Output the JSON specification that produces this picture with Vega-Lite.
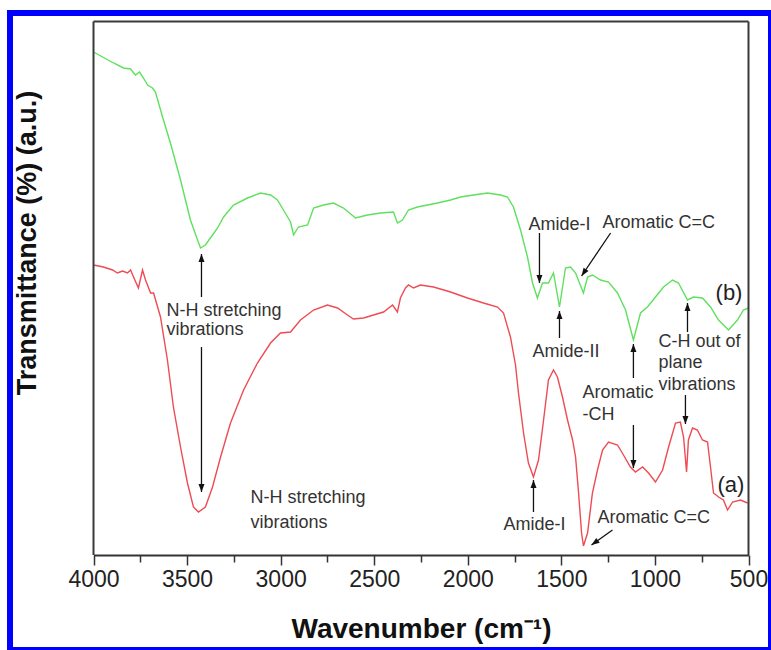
{
  "$schema": "https://vega.github.io/schema/vega-lite/v6.json",
  "width": 761,
  "height": 637,
  "autosize": {"type": "none"},
  "padding": {"left": 10, "top": 13, "right": 0, "bottom": 0},
  "background": "white",
  "config": {
    "view": {"stroke": "#0000ff", "strokeWidth": 6},
    "font": "Liberation Sans"
  },
  "datasets": {
    "curves": [
      {"series": "b", "wn": 4000, "v": 503}, {"series": "b", "wn": 3893, "v": 492}, {"series": "b", "wn": 3840, "v": 487},
      {"series": "b", "wn": 3802, "v": 486}, {"series": "b", "wn": 3776, "v": 480}, {"series": "b", "wn": 3754, "v": 483},
      {"series": "b", "wn": 3733, "v": 477}, {"series": "b", "wn": 3711, "v": 470}, {"series": "b", "wn": 3685, "v": 467},
      {"series": "b", "wn": 3669, "v": 463}, {"series": "b", "wn": 3631, "v": 438}, {"series": "b", "wn": 3589, "v": 412},
      {"series": "b", "wn": 3535, "v": 375}, {"series": "b", "wn": 3482, "v": 335}, {"series": "b", "wn": 3444, "v": 315},
      {"series": "b", "wn": 3428, "v": 307}, {"series": "b", "wn": 3402, "v": 310}, {"series": "b", "wn": 3364, "v": 320},
      {"series": "b", "wn": 3337, "v": 327}, {"series": "b", "wn": 3305, "v": 338}, {"series": "b", "wn": 3252, "v": 350},
      {"series": "b", "wn": 3177, "v": 357}, {"series": "b", "wn": 3108, "v": 362}, {"series": "b", "wn": 3054, "v": 360},
      {"series": "b", "wn": 3017, "v": 355}, {"series": "b", "wn": 2985, "v": 345}, {"series": "b", "wn": 2947, "v": 333},
      {"series": "b", "wn": 2931, "v": 320}, {"series": "b", "wn": 2905, "v": 328}, {"series": "b", "wn": 2856, "v": 330},
      {"series": "b", "wn": 2824, "v": 347}, {"series": "b", "wn": 2771, "v": 350}, {"series": "b", "wn": 2718, "v": 352},
      {"series": "b", "wn": 2664, "v": 347}, {"series": "b", "wn": 2600, "v": 337}, {"series": "b", "wn": 2536, "v": 340},
      {"series": "b", "wn": 2466, "v": 342}, {"series": "b", "wn": 2397, "v": 343}, {"series": "b", "wn": 2376, "v": 332},
      {"series": "b", "wn": 2349, "v": 335}, {"series": "b", "wn": 2317, "v": 345}, {"series": "b", "wn": 2269, "v": 348},
      {"series": "b", "wn": 2215, "v": 350}, {"series": "b", "wn": 2162, "v": 352}, {"series": "b", "wn": 2092, "v": 355},
      {"series": "b", "wn": 2039, "v": 358}, {"series": "b", "wn": 1969, "v": 360}, {"series": "b", "wn": 1895, "v": 362},
      {"series": "b", "wn": 1825, "v": 360}, {"series": "b", "wn": 1788, "v": 358}, {"series": "b", "wn": 1756, "v": 348},
      {"series": "b", "wn": 1718, "v": 325}, {"series": "b", "wn": 1681, "v": 298}, {"series": "b", "wn": 1654, "v": 272},
      {"series": "b", "wn": 1628, "v": 257}, {"series": "b", "wn": 1601, "v": 272}, {"series": "b", "wn": 1569, "v": 272},
      {"series": "b", "wn": 1542, "v": 282}, {"series": "b", "wn": 1510, "v": 248}, {"series": "b", "wn": 1478, "v": 287},
      {"series": "b", "wn": 1451, "v": 288}, {"series": "b", "wn": 1424, "v": 282}, {"series": "b", "wn": 1382, "v": 262},
      {"series": "b", "wn": 1360, "v": 278}, {"series": "b", "wn": 1334, "v": 280}, {"series": "b", "wn": 1291, "v": 275},
      {"series": "b", "wn": 1248, "v": 273}, {"series": "b", "wn": 1200, "v": 262}, {"series": "b", "wn": 1157, "v": 245},
      {"series": "b", "wn": 1115, "v": 215}, {"series": "b", "wn": 1077, "v": 242}, {"series": "b", "wn": 1040, "v": 248},
      {"series": "b", "wn": 997, "v": 258}, {"series": "b", "wn": 954, "v": 268}, {"series": "b", "wn": 906, "v": 275},
      {"series": "b", "wn": 874, "v": 272}, {"series": "b", "wn": 826, "v": 255}, {"series": "b", "wn": 794, "v": 258},
      {"series": "b", "wn": 746, "v": 257}, {"series": "b", "wn": 703, "v": 248}, {"series": "b", "wn": 660, "v": 235},
      {"series": "b", "wn": 607, "v": 225}, {"series": "b", "wn": 559, "v": 235}, {"series": "b", "wn": 527, "v": 245},
      {"series": "b", "wn": 500, "v": 247},
      {"series": "a", "wn": 4000, "v": 290}, {"series": "a", "wn": 3947, "v": 288}, {"series": "a", "wn": 3898, "v": 285},
      {"series": "a", "wn": 3872, "v": 282}, {"series": "a", "wn": 3845, "v": 284}, {"series": "a", "wn": 3818, "v": 282},
      {"series": "a", "wn": 3802, "v": 285}, {"series": "a", "wn": 3786, "v": 278}, {"series": "a", "wn": 3760, "v": 267},
      {"series": "a", "wn": 3738, "v": 285}, {"series": "a", "wn": 3722, "v": 275}, {"series": "a", "wn": 3695, "v": 262},
      {"series": "a", "wn": 3679, "v": 262}, {"series": "a", "wn": 3642, "v": 238}, {"series": "a", "wn": 3605, "v": 195},
      {"series": "a", "wn": 3573, "v": 148}, {"series": "a", "wn": 3535, "v": 108}, {"series": "a", "wn": 3498, "v": 72},
      {"series": "a", "wn": 3466, "v": 48}, {"series": "a", "wn": 3439, "v": 43}, {"series": "a", "wn": 3402, "v": 48},
      {"series": "a", "wn": 3364, "v": 68}, {"series": "a", "wn": 3321, "v": 98}, {"series": "a", "wn": 3268, "v": 132},
      {"series": "a", "wn": 3198, "v": 165}, {"series": "a", "wn": 3124, "v": 192}, {"series": "a", "wn": 3054, "v": 212},
      {"series": "a", "wn": 3001, "v": 222}, {"series": "a", "wn": 2947, "v": 223}, {"series": "a", "wn": 2894, "v": 235},
      {"series": "a", "wn": 2824, "v": 245}, {"series": "a", "wn": 2750, "v": 250}, {"series": "a", "wn": 2696, "v": 247},
      {"series": "a", "wn": 2643, "v": 240}, {"series": "a", "wn": 2611, "v": 236}, {"series": "a", "wn": 2557, "v": 237},
      {"series": "a", "wn": 2504, "v": 240}, {"series": "a", "wn": 2450, "v": 243}, {"series": "a", "wn": 2402, "v": 250},
      {"series": "a", "wn": 2376, "v": 243}, {"series": "a", "wn": 2360, "v": 257}, {"series": "a", "wn": 2333, "v": 267},
      {"series": "a", "wn": 2317, "v": 270}, {"series": "a", "wn": 2290, "v": 267}, {"series": "a", "wn": 2253, "v": 270},
      {"series": "a", "wn": 2183, "v": 268}, {"series": "a", "wn": 2092, "v": 263}, {"series": "a", "wn": 2002, "v": 257},
      {"series": "a", "wn": 1916, "v": 252}, {"series": "a", "wn": 1841, "v": 248}, {"series": "a", "wn": 1809, "v": 242},
      {"series": "a", "wn": 1772, "v": 218}, {"series": "a", "wn": 1745, "v": 190}, {"series": "a", "wn": 1729, "v": 162},
      {"series": "a", "wn": 1702, "v": 122}, {"series": "a", "wn": 1676, "v": 92}, {"series": "a", "wn": 1649, "v": 78},
      {"series": "a", "wn": 1622, "v": 95}, {"series": "a", "wn": 1595, "v": 135}, {"series": "a", "wn": 1569, "v": 175},
      {"series": "a", "wn": 1542, "v": 185}, {"series": "a", "wn": 1521, "v": 178}, {"series": "a", "wn": 1494, "v": 158},
      {"series": "a", "wn": 1467, "v": 135}, {"series": "a", "wn": 1440, "v": 115}, {"series": "a", "wn": 1424, "v": 98},
      {"series": "a", "wn": 1408, "v": 62}, {"series": "a", "wn": 1392, "v": 22}, {"series": "a", "wn": 1382, "v": 9},
      {"series": "a", "wn": 1360, "v": 22}, {"series": "a", "wn": 1334, "v": 62}, {"series": "a", "wn": 1307, "v": 85},
      {"series": "a", "wn": 1280, "v": 105}, {"series": "a", "wn": 1248, "v": 113}, {"series": "a", "wn": 1200, "v": 110},
      {"series": "a", "wn": 1168, "v": 100}, {"series": "a", "wn": 1131, "v": 88}, {"series": "a", "wn": 1104, "v": 83},
      {"series": "a", "wn": 1066, "v": 88}, {"series": "a", "wn": 1034, "v": 82}, {"series": "a", "wn": 997, "v": 73},
      {"series": "a", "wn": 959, "v": 85}, {"series": "a", "wn": 927, "v": 108}, {"series": "a", "wn": 890, "v": 132},
      {"series": "a", "wn": 864, "v": 133}, {"series": "a", "wn": 847, "v": 118}, {"series": "a", "wn": 831, "v": 83},
      {"series": "a", "wn": 821, "v": 115}, {"series": "a", "wn": 799, "v": 127}, {"series": "a", "wn": 773, "v": 125},
      {"series": "a", "wn": 746, "v": 115}, {"series": "a", "wn": 719, "v": 113}, {"series": "a", "wn": 703, "v": 88},
      {"series": "a", "wn": 687, "v": 62}, {"series": "a", "wn": 660, "v": 58}, {"series": "a", "wn": 634, "v": 55},
      {"series": "a", "wn": 612, "v": 45}, {"series": "a", "wn": 585, "v": 53}, {"series": "a", "wn": 543, "v": 55},
      {"series": "a", "wn": 505, "v": 52}
    ],
    "labels": [
      {"text": "N-H stretching", "wn": 3610, "v": 244},
      {"text": "vibrations", "wn": 3610, "v": 225},
      {"text": "N-H stretching", "wn": 3161, "v": 57},
      {"text": "vibrations", "wn": 3161, "v": 32},
      {"text": "Amide-I", "wn": 1676, "v": 330},
      {"text": "Aromatic C=C", "wn": 1280, "v": 332},
      {"text": "Amide-II", "wn": 1654, "v": 203},
      {"text": "C-H out of", "wn": 981, "v": 213},
      {"text": "plane", "wn": 981, "v": 192},
      {"text": "vibrations", "wn": 981, "v": 170},
      {"text": "Aromatic", "wn": 1387, "v": 162},
      {"text": "-CH", "wn": 1387, "v": 140},
      {"text": "Amide-I", "wn": 1809, "v": 30},
      {"text": "Aromatic C=C", "wn": 1307, "v": 37}
    ],
    "curveLabels": [
      {"text": "(b)", "wn": 676, "v": 262},
      {"text": "(a)", "wn": 666, "v": 70}
    ],
    "frame": [
      {"wn": 4000, "v": 533.5, "wn0": 500, "v0": 533.5},
      {"wn": 4000, "v": 0, "wn0": 4000, "v0": 533.5},
      {"wn": 500, "v": 0, "wn0": 500, "v0": 533.5}
    ],
    "arrows": [
      {"wn": 3423, "v": 301, "wn0": 3423, "v0": 258},
      {"wn": 3423, "v": 63, "wn0": 3423, "v0": 208},
      {"wn": 1617, "v": 272, "wn0": 1617, "v0": 322},
      {"wn": 1392, "v": 279, "wn0": 1237, "v0": 322},
      {"wn": 1510, "v": 244, "wn0": 1510, "v0": 217},
      {"wn": 1115, "v": 211, "wn0": 1115, "v0": 177},
      {"wn": 1115, "v": 87, "wn0": 1115, "v0": 130},
      {"wn": 826, "v": 252, "wn0": 826, "v0": 223},
      {"wn": 837, "v": 131, "wn0": 837, "v0": 160},
      {"wn": 1649, "v": 75, "wn0": 1649, "v0": 43},
      {"wn": 1339, "v": 10, "wn0": 1227, "v0": 25}
    ]
  },
  "encoding": {
    "x": {
      "field": "wn", "type": "quantitative",
      "scale": {"domain": [500, 4000], "range": [738.5, 83.5], "nice": false, "zero": false},
      "axis": {
        "title": "Wavenumber (cm⁻¹)",
        "values": [4000, 3750, 3500, 3250, 3000, 2750, 2500, 2250, 2000, 1750, 1500, 1250, 1000, 750, 500],
        "format": "d",
        "labelExpr": "datum.value % 500 === 0 ? datum.label : ''",
        "offset": -95,
        "grid": false,
        "tickSize": {"condition": {"test": "datum.value % 500 === 0", "value": 10}, "value": 7},
        "tickColor": "#333333",
        "tickWidth": 1.5,
        "domainColor": "#333333",
        "domainWidth": 2,
        "labelFont": "Liberation Sans",
        "labelFontSize": 23,
        "labelColor": "#222222",
        "labelPadding": 3,
        "labelFlush": false,
        "labelOverlap": false,
        "titleFont": "Liberation Sans",
        "titleFontSize": 28,
        "titleFontWeight": "bold",
        "titleColor": "#111111",
        "titleBaseline": "middle",
        "titleY": 74
      }
    },
    "y": {
      "field": "v", "type": "quantitative",
      "scale": {"domain": [0, 533.5], "range": [542, 8.5], "nice": false, "zero": false},
      "axis": {
        "title": "Transmittance (%) (a.u.)",
        "labels": false, "ticks": false, "domain": false, "grid": false,
        "titleFont": "Liberation Sans",
        "titleFontSize": 27,
        "titleFontWeight": "bold",
        "titleColor": "#111111",
        "titleAngle": -90,
        "titleAlign": "center",
        "titleBaseline": "middle",
        "titleX": 17.5,
        "titleY": 229.5
      }
    }
  },
  "layer": [
    {
      "data": {"name": "curves"},
      "mark": {"type": "line", "strokeWidth": 1.4},
      "encoding": {
        "color": {"field": "series", "type": "nominal", "scale": {"domain": ["a", "b"], "range": ["#ee4b53", "#5fe05f"]}, "legend": null}
      }
    },
    {
      "data": {"name": "frame"},
      "mark": {"type": "rule", "color": "#3a3a3a", "strokeWidth": 2},
      "encoding": {
        "x2": {"field": "wn0"},
        "y2": {"field": "v0"}
      }
    },
    {
      "data": {"name": "arrows"},
      "mark": {"type": "rule", "color": "#111111", "strokeWidth": 1.3},
      "encoding": {
        "x2": {"field": "wn0"},
        "y2": {"field": "v0"}
      }
    },
    {
      "data": {"name": "arrows"},
      "transform": [
        {"calculate": "atan2((datum.wn0 - datum.wn) * 655 / 3500, datum.v - datum.v0) * 180 / PI", "as": "ang"}
      ],
      "mark": {"type": "point", "shape": "M0,0L0.75,2L-0.75,2Z", "filled": true, "color": "#111111", "size": 64, "opacity": 1},
      "encoding": {
        "angle": {"field": "ang", "type": "quantitative", "scale": null}
      }
    },
    {
      "data": {"name": "labels"},
      "mark": {"type": "text", "align": "left", "baseline": "middle", "fontSize": 18, "font": "Liberation Sans", "color": "#333333"},
      "encoding": {"text": {"field": "text"}}
    },
    {
      "data": {"name": "curveLabels"},
      "mark": {"type": "text", "align": "left", "baseline": "middle", "fontSize": 22, "font": "Liberation Sans", "color": "#222222"},
      "encoding": {"text": {"field": "text"}}
    }
  ]
}
